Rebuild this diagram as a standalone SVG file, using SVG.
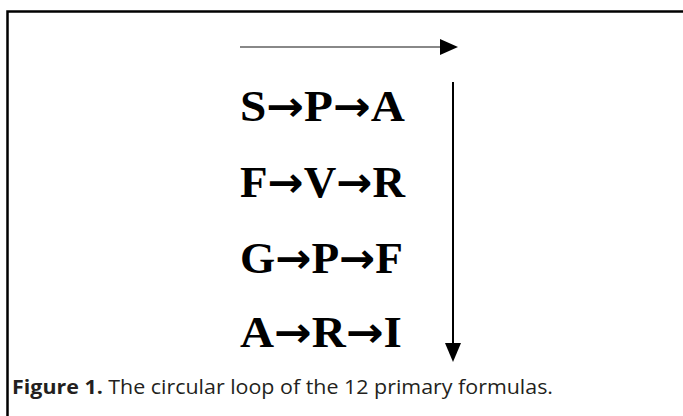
<svg xmlns="http://www.w3.org/2000/svg" width="683" height="416" viewBox="0 0 683 416">
<style>
.f{font-family:"Liberation Serif","Times New Roman",serif;font-weight:bold;font-size:44px;fill:#000}
.a{font-family:"DejaVu Sans",sans-serif;font-weight:bold;font-size:42px}
.cap{font-family:"Open Sans","Noto Sans",sans-serif;font-size:20px;fill:#231f20}
</style>
<rect width="683" height="416" fill="#fff"/>
<path d="M7.5 430 V11.5 H700" fill="none" stroke="#000" stroke-width="2.5"/>
<g id="connectors">
<line x1="240" y1="47" x2="442" y2="47" stroke="#888" stroke-width="2"/>
<polygon points="440,39 458,47 440,55" fill="#000"/>
<line x1="453" y1="82" x2="453" y2="345" stroke="#000" stroke-width="2"/>
<polygon points="445,343 461,343 453,362" fill="#000"/>
</g>
<g id="row1"><text class="f" x="240" y="121" textLength="165" lengthAdjust="spacingAndGlyphs">S<tspan class="a">→</tspan>P<tspan class="a">→</tspan>A</text></g>
<g id="row2"><text class="f" x="240" y="197" textLength="165" lengthAdjust="spacingAndGlyphs">F<tspan class="a">→</tspan>V<tspan class="a">→</tspan>R</text></g>
<g id="row3"><text class="f" x="240" y="273" textLength="163" lengthAdjust="spacingAndGlyphs">G<tspan class="a">→</tspan>P<tspan class="a">→</tspan>F</text></g>
<g id="row4"><text class="f" x="240" y="347" textLength="162" lengthAdjust="spacingAndGlyphs">A<tspan class="a">→</tspan>R<tspan class="a">→</tspan>I</text></g>
<g id="caption"><text class="cap" x="12" y="394" textLength="541" lengthAdjust="spacingAndGlyphs"><tspan font-weight="bold">Figure 1.</tspan> The circular loop of the 12 primary formulas.</text></g>
</svg>
